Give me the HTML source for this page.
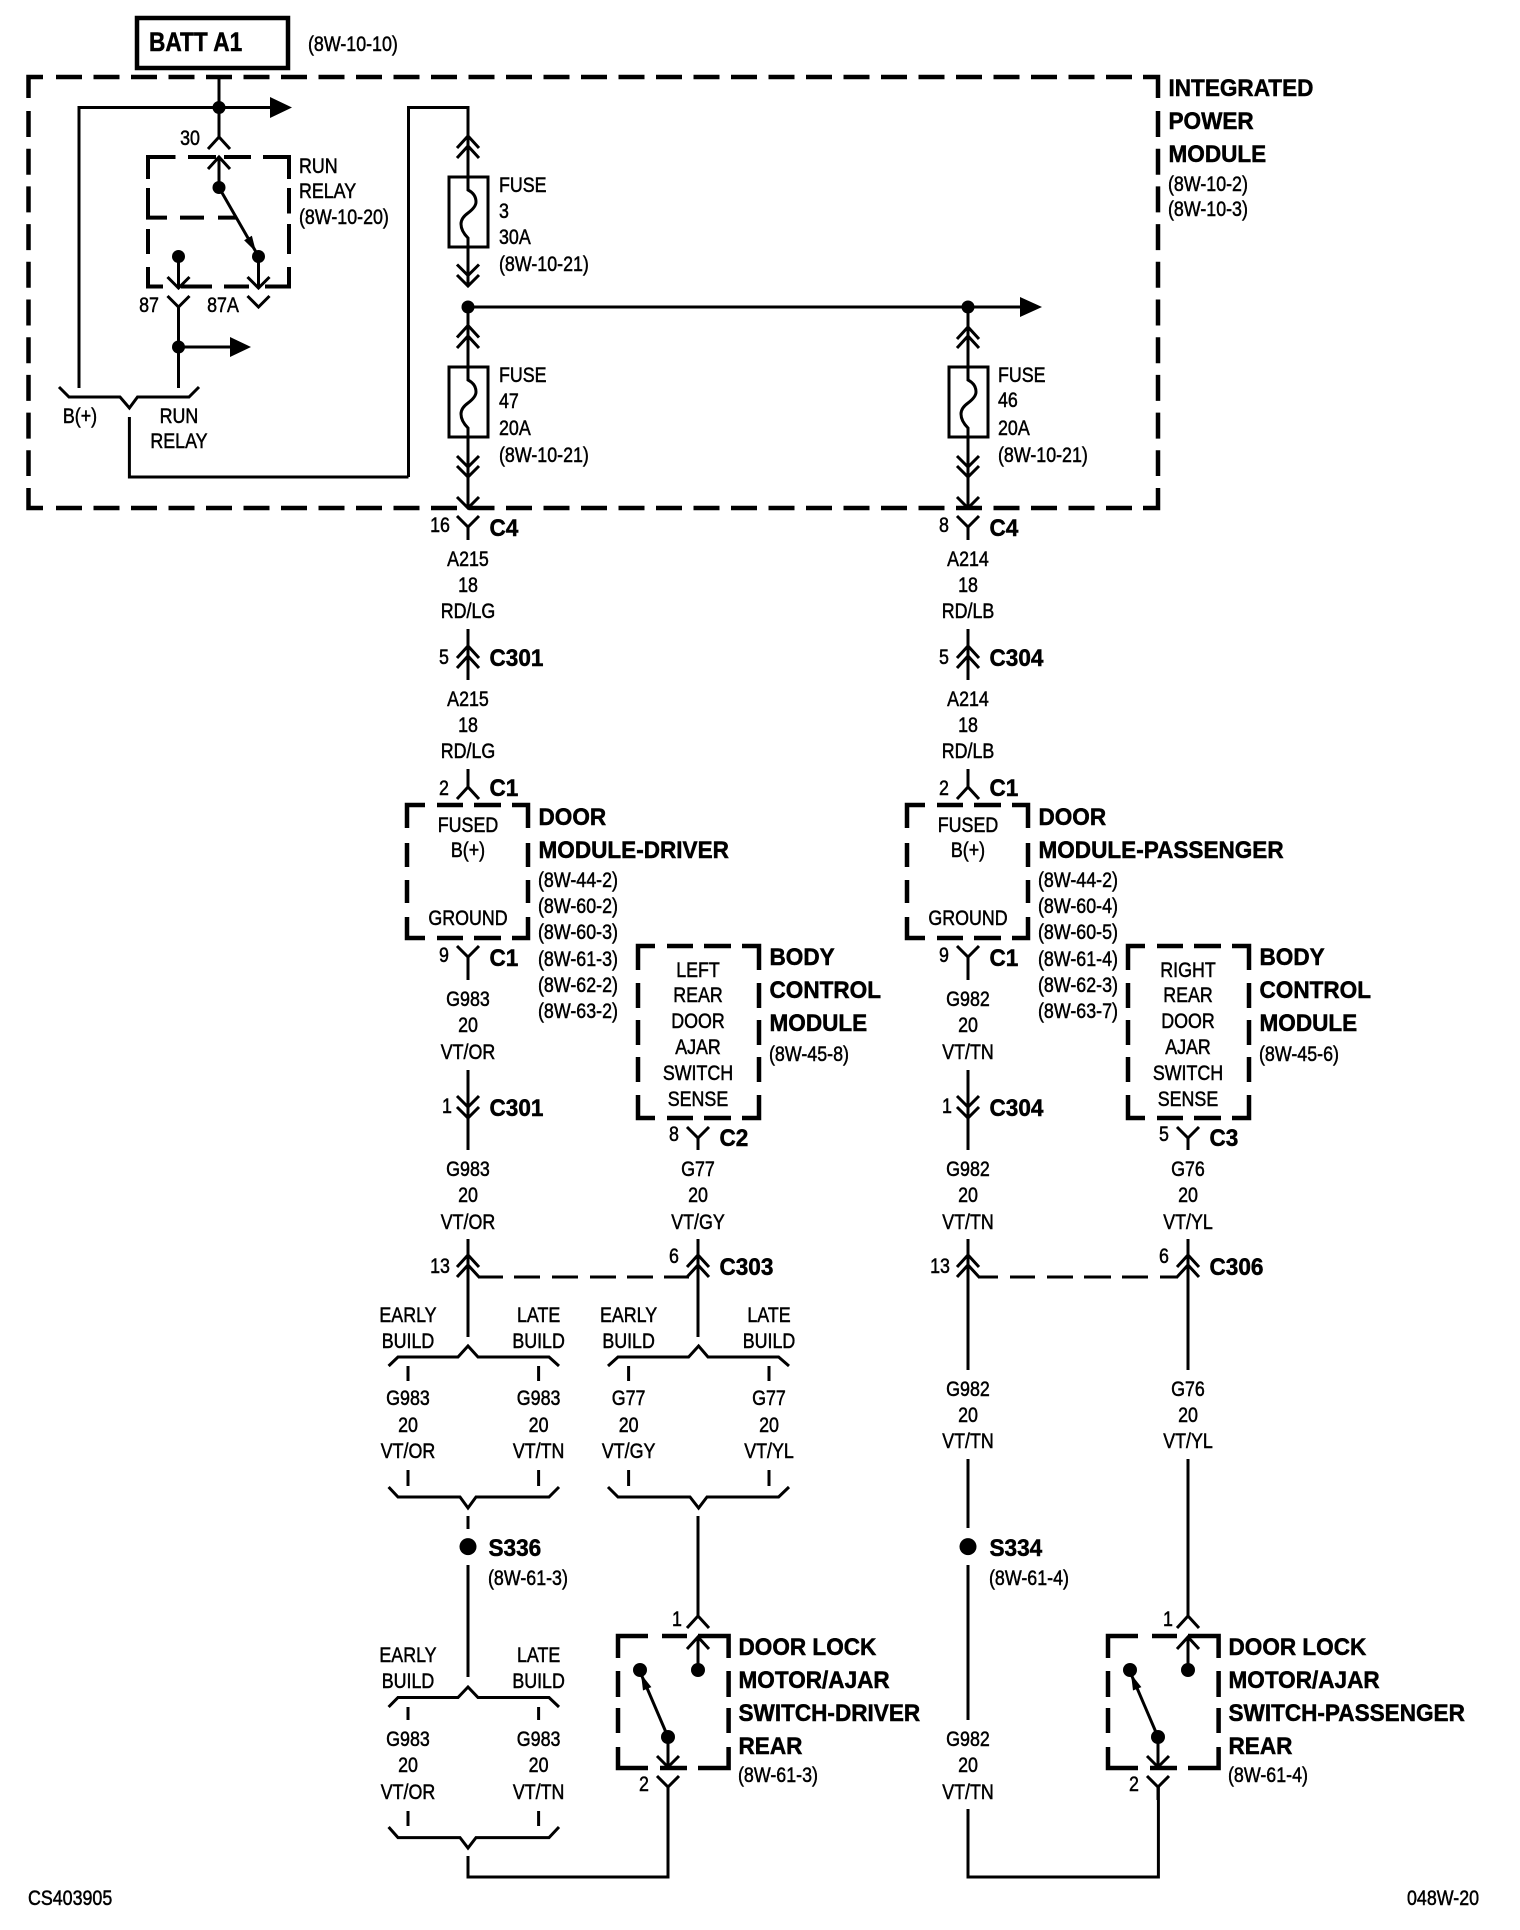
<!DOCTYPE html>
<html><head><meta charset="utf-8"><style>
html,body{margin:0;padding:0;background:#fff}
svg{display:block}
text{font-family:"Liberation Sans",sans-serif;fill:#000;transform-box:fill-box}
.r,.c{font-size:21px;stroke:#000;stroke-width:.5px}
.r{transform-origin:0 50%;transform:translate(-1px,-1px) scaleX(.85)}
.c{text-anchor:middle;transform-origin:50% 50%;transform:translateY(-1px) scaleX(.85)}
.b{font-size:24px;font-weight:bold;stroke:#000;stroke-width:.5px;transform-origin:0 50%;transform:translate(-.5px,-1px) scaleX(.94)}
.t{font-size:27px;font-weight:bold;stroke:#000;stroke-width:.5px;transform-origin:0 50%;transform:translateY(-1px) scaleX(.84)}
.w{fill:none;stroke:#000;stroke-width:3}
.d{fill:none;stroke:#000;stroke-width:4.5}
.n{fill:#000}
</style></head><body>
<svg xmlns="http://www.w3.org/2000/svg" width="1520" height="1930" viewBox="0 0 1520 1930">
<defs>
<path id="u" class="w" d="M-11 12L0 0L11 12"/>
<path id="v" class="w" d="M-11 -11L0 0L11 -11"/>
<g id="fuse"><rect class="w" x="-19" y="0" width="39" height="70"/><path class="w" d="M0 0V13Q8 17 8 25Q8 30 0 36Q-7 41 -7 47Q-7 54 0 61V70"/></g>
<path id="doorbox" class="d" d="M425 805H407V828M437 805H463M474 805H501M512 805H528V828M528 843V867M528 880V903M528 917V938H512M501 938H474M463 938H437M425 938H407V917M407 903V880M407 867V843"/>
<path id="bcmbox" class="d" d="M655 946H638V970M667 946H693M704 946H731M742 946H759V970M759 983V1008M759 1020V1045M759 1057V1082M759 1095V1118H742M731 1118H704M693 1118H667M655 1118H638V1095M638 1082V1057M638 1045V1020M638 1008V983"/>
<g id="sw">
<path class="d" d="M648 1636H618V1658M662 1636H687M698 1636H728.6V1658M728.6 1671V1697M728.6 1708V1733M728.6 1747V1768H698M687 1768H660M648 1768H618V1747M618 1733V1708M618 1697V1671"/>
<path class="w" d="M698 1516V1616M698 1637V1670M668 1737V1767M668 1787V1800M668 1737L641 1674"/>
<path class="w" d="M687 1628L698 1616L709 1628M687 1649L698 1637L709 1649M657 1756L668 1767L679 1756M657 1776L668 1787L679 1776"/>
<circle class="n" cx="698" cy="1670" r="7"/><circle class="n" cx="640" cy="1670" r="7"/><circle class="n" cx="668" cy="1737" r="7"/>
<polygon class="n" points="641,1674 651.4,1687.1 643,1690.5"/>
</g>
</defs>

<!-- BATT -->
<rect x="137" y="18" width="151" height="50" fill="none" stroke="#000" stroke-width="4.5"/>
<text class="t" x="149" y="52">BATT A1</text>
<text class="r" x="309" y="52">(8W-10-10)</text>

<!-- main dashed box -->
<path class="d" d="M28.5 98V77H43M1143 77H1158V98M1158 488V508H1143M43 508H28.5V488"/>
<path class="d" stroke-dasharray="26 11.5" d="M56 77H1132M56 508H1132"/>
<path class="d" stroke-dasharray="26 11.7" d="M28.5 111V476M1158 111V476"/>
<text class="b" x="1169" y="97">INTEGRATED</text>
<text class="b" x="1169" y="130">POWER</text>
<text class="b" x="1169" y="163">MODULE</text>
<text class="r" x="1169" y="192">(8W-10-2)</text>
<text class="r" x="1169" y="217">(8W-10-3)</text>

<!-- top left wiring -->
<path class="w" d="M219 78V137M79 388V107.5H272M408.5 477V107.5H468V136M129.4 417V477H408.5M219 157V187.5"/>
<circle class="n" cx="219" cy="107.5" r="6.5"/>
<polygon class="n" points="270,97 292,107.5 270,118"/>
<use href="#u" x="219" y="137"/><use href="#u" x="219" y="157"/>
<path class="d" style="stroke-width:4" d="M175.5 157H148V179M188 157H216M224 157H251M263 157H289V179M289 188V213.5M289 224V254M289 267V286.5H265M249 286.5H224M212 286.5H181M163 286.5H148V267M148 254V229M148 188V217.6H167M180 217.6H204M218 217.6H237"/>
<circle class="n" cx="219" cy="187.5" r="6.5"/>
<circle class="n" cx="178.5" cy="256.5" r="6.5"/>
<circle class="n" cx="258.5" cy="256.5" r="6.5"/>
<path class="w" d="M219 187.5L256 252M178.5 256.5V288M258.5 256.5V288M178.5 307V388"/>
<polygon class="n" points="256,252 251.9,235.8 244.1,240.2"/>
<use href="#v" x="178.5" y="288"/><use href="#v" x="258.5" y="288"/>
<use href="#v" x="178.5" y="307"/><use href="#v" x="258.5" y="307"/>
<circle class="n" cx="178.5" cy="347" r="6.5"/>
<path class="w" d="M178.5 347H232"/><polygon class="n" points="230,337 251,347 230,357"/>
<path class="w" d="M59 387L69 397H120L129.4 408L137.5 397H189L199 387"/>
<text class="c" x="190" y="146">30</text>
<text class="c" x="149" y="313">87</text>
<text class="c" x="223" y="313">87A</text>
<text class="r" x="300" y="174">RUN</text>
<text class="r" x="300" y="199">RELAY</text>
<text class="r" x="300" y="225">(8W-10-20)</text>
<text class="c" x="80" y="424">B(+)</text>
<text class="c" x="179" y="424">RUN</text>
<text class="c" x="179" y="449">RELAY</text>

<!-- column A fuses -->
<path class="w" d="M468 136V177M468 247V286M468 307V367M468 437V508M468 527V540"/>
<use href="#u" x="468" y="136"/><use href="#u" x="468" y="146"/>
<use href="#fuse" x="468" y="177"/>
<use href="#v" x="468" y="275.5"/><use href="#v" x="468" y="286"/>
<use href="#u" x="468" y="325.5"/><use href="#u" x="468" y="336"/>
<use href="#fuse" x="468" y="367"/>
<use href="#v" x="468" y="467"/><use href="#v" x="468" y="477"/><use href="#v" x="468" y="508"/><use href="#v" x="468" y="527"/>
<text class="r" x="500" y="193">FUSE</text><text class="r" x="500" y="219">3</text><text class="r" x="500" y="245">30A</text><text class="r" x="500" y="272">(8W-10-21)</text>
<text class="r" x="500" y="383">FUSE</text><text class="r" x="500" y="409">47</text><text class="r" x="500" y="436">20A</text><text class="r" x="500" y="463">(8W-10-21)</text>
<circle class="n" cx="468" cy="307" r="6.5"/>
<path class="w" d="M468 307H1022"/>
<polygon class="n" points="1020,297 1042,307 1020,317"/>

<!-- column B fuse -->
<circle class="n" cx="968" cy="307" r="6.5"/>
<path class="w" d="M968 307V367M968 437V508M968 527V540"/>
<use href="#u" x="968" y="327"/><use href="#u" x="968" y="336"/>
<use href="#fuse" x="968" y="367"/>
<use href="#v" x="968" y="467"/><use href="#v" x="968" y="477"/><use href="#v" x="968" y="508"/><use href="#v" x="968" y="527"/>
<text class="r" x="999" y="383">FUSE</text><text class="r" x="999" y="408">46</text><text class="r" x="999" y="436">20A</text><text class="r" x="999" y="463">(8W-10-21)</text>

<!-- C4 / C301 / C304 labels col A -->
<text class="c" x="440" y="533">16</text><text class="b" x="490" y="537">C4</text>
<text class="c" x="468" y="567">A215</text><text class="c" x="468" y="593">18</text><text class="c" x="468" y="619">RD/LG</text>
<path class="w" d="M468 629V680M468 769V787"/>
<use href="#u" x="468" y="646"/><use href="#u" x="468" y="656"/><use href="#u" x="468" y="787"/>
<text class="c" x="444" y="665">5</text><text class="b" x="490" y="667">C301</text>
<text class="c" x="468" y="707">A215</text><text class="c" x="468" y="733">18</text><text class="c" x="468" y="759">RD/LG</text>
<text class="c" x="444" y="796">2</text><text class="b" x="490" y="797">C1</text>

<!-- col B -->
<text class="c" x="944" y="533">8</text><text class="b" x="990" y="537">C4</text>
<text class="c" x="968" y="567">A214</text><text class="c" x="968" y="593">18</text><text class="c" x="968" y="619">RD/LB</text>
<path class="w" d="M968 629V680M968 769V787"/>
<use href="#u" x="968" y="646"/><use href="#u" x="968" y="656"/><use href="#u" x="968" y="787"/>
<text class="c" x="944" y="665">5</text><text class="b" x="990" y="667">C304</text>
<text class="c" x="968" y="707">A214</text><text class="c" x="968" y="733">18</text><text class="c" x="968" y="759">RD/LB</text>
<text class="c" x="944" y="796">2</text><text class="b" x="990" y="797">C1</text>

<!-- door modules -->
<use href="#doorbox"/><use href="#doorbox" x="500"/>
<text class="c" x="468" y="833">FUSED</text><text class="c" x="468" y="858">B(+)</text><text class="c" x="468" y="926">GROUND</text>
<text class="c" x="968" y="833">FUSED</text><text class="c" x="968" y="858">B(+)</text><text class="c" x="968" y="926">GROUND</text>
<text class="b" x="539" y="826">DOOR</text><text class="b" x="539" y="859">MODULE-DRIVER</text>
<text class="r" x="539" y="888">(8W-44-2)</text><text class="r" x="539" y="914">(8W-60-2)</text><text class="r" x="539" y="940">(8W-60-3)</text><text class="r" x="539" y="967">(8W-61-3)</text><text class="r" x="539" y="993">(8W-62-2)</text><text class="r" x="539" y="1019">(8W-63-2)</text>
<text class="b" x="1039" y="826">DOOR</text><text class="b" x="1039" y="859">MODULE-PASSENGER</text>
<text class="r" x="1039" y="888">(8W-44-2)</text><text class="r" x="1039" y="914">(8W-60-4)</text><text class="r" x="1039" y="940">(8W-60-5)</text><text class="r" x="1039" y="967">(8W-61-4)</text><text class="r" x="1039" y="993">(8W-62-3)</text><text class="r" x="1039" y="1019">(8W-63-7)</text>

<!-- below door modules -->
<path class="w" d="M468 957V980M468 1070V1118M468 1118V1150M468 1239V1337M968 957V980M968 1070V1150M968 1239V1370M968 1459V1528M968 1565V1720M968 1809V1877H1158.4V1787"/>
<use href="#v" x="468" y="957"/><use href="#v" x="968" y="957"/>
<text class="c" x="444" y="963">9</text><text class="b" x="490" y="967">C1</text>
<text class="c" x="944" y="963">9</text><text class="b" x="990" y="967">C1</text>
<text class="c" x="468" y="1007">G983</text><text class="c" x="468" y="1033">20</text><text class="c" x="468" y="1060">VT/OR</text>
<text class="c" x="968" y="1007">G982</text><text class="c" x="968" y="1033">20</text><text class="c" x="968" y="1060">VT/TN</text>
<use href="#v" x="468" y="1107"/><use href="#v" x="468" y="1118"/><use href="#v" x="968" y="1107"/><use href="#v" x="968" y="1118"/>
<text class="c" x="447" y="1114">1</text><text class="b" x="490" y="1117">C301</text>
<text class="c" x="947" y="1114">1</text><text class="b" x="990" y="1117">C304</text>
<text class="c" x="468" y="1177">G983</text><text class="c" x="468" y="1203">20</text><text class="c" x="468" y="1230">VT/OR</text>
<text class="c" x="968" y="1177">G982</text><text class="c" x="968" y="1203">20</text><text class="c" x="968" y="1230">VT/TN</text>

<!-- BCM left -->
<use href="#bcmbox"/><use href="#bcmbox" x="490"/>
<text class="c" x="698" y="978">LEFT</text><text class="c" x="698" y="1003">REAR</text><text class="c" x="698" y="1029">DOOR</text><text class="c" x="698" y="1055">AJAR</text><text class="c" x="698" y="1081">SWITCH</text><text class="c" x="698" y="1107">SENSE</text>
<text class="b" x="770" y="966">BODY</text><text class="b" x="770" y="999">CONTROL</text><text class="b" x="770" y="1032">MODULE</text><text class="r" x="770" y="1062">(8W-45-8)</text>
<text class="c" x="1188" y="978">RIGHT</text><text class="c" x="1188" y="1003">REAR</text><text class="c" x="1188" y="1029">DOOR</text><text class="c" x="1188" y="1055">AJAR</text><text class="c" x="1188" y="1081">SWITCH</text><text class="c" x="1188" y="1107">SENSE</text>
<text class="b" x="1260" y="966">BODY</text><text class="b" x="1260" y="999">CONTROL</text><text class="b" x="1260" y="1032">MODULE</text><text class="r" x="1260" y="1062">(8W-45-6)</text>
<path class="w" d="M698 1138V1150M698 1239V1337M1188 1138V1150M1188 1239V1370M1188 1459V1616"/>
<use href="#v" x="698" y="1138"/><use href="#v" x="1188" y="1138"/>
<text class="c" x="674" y="1142">8</text><text class="b" x="720" y="1147">C2</text>
<text class="c" x="1164" y="1142">5</text><text class="b" x="1210" y="1147">C3</text>
<text class="c" x="698" y="1177">G77</text><text class="c" x="698" y="1203">20</text><text class="c" x="698" y="1230">VT/GY</text>
<text class="c" x="1188" y="1177">G76</text><text class="c" x="1188" y="1203">20</text><text class="c" x="1188" y="1230">VT/YL</text>

<!-- C303/C306 -->
<use href="#u" x="468" y="1255"/><use href="#u" x="468" y="1265"/><use href="#u" x="698" y="1255"/><use href="#u" x="698" y="1265"/>
<use href="#u" x="968" y="1255"/><use href="#u" x="968" y="1265"/><use href="#u" x="1188" y="1255"/><use href="#u" x="1188" y="1265"/>
<path class="w" d="M478 1277H503M514 1277H540M552 1277H578M590 1277H616M627 1277H653M664 1277H689M978 1277H998M1010 1277H1035M1047 1277H1073M1084 1277H1111M1122 1277H1148M1160 1277H1178"/>
<text class="c" x="440" y="1274">13</text><text class="c" x="674" y="1264">6</text><text class="b" x="720" y="1276">C303</text>
<text class="c" x="940" y="1274">13</text><text class="c" x="1164" y="1264">6</text><text class="b" x="1210" y="1276">C306</text>

<!-- right G982/G76 lower -->
<text class="c" x="968" y="1397">G982</text><text class="c" x="968" y="1423">20</text><text class="c" x="968" y="1449">VT/TN</text>
<text class="c" x="1188" y="1397">G76</text><text class="c" x="1188" y="1423">20</text><text class="c" x="1188" y="1449">VT/YL</text>
<circle class="n" cx="968" cy="1546.6" r="8.5"/>
<text class="b" x="990" y="1557">S334</text><text class="r" x="990" y="1586">(8W-61-4)</text>
<text class="c" x="968" y="1747">G982</text><text class="c" x="968" y="1773">20</text><text class="c" x="968" y="1800">VT/TN</text>

<!-- early/late A upper -->
<text class="c" x="408" y="1323">EARLY</text><text class="c" x="408" y="1349">BUILD</text>
<text class="c" x="538.6" y="1323">LATE</text><text class="c" x="538.6" y="1349">BUILD</text>
<path class="w" d="M388.6 1366L398 1357H458L468 1346L478 1357H549L559 1366M408 1366V1381M538.6 1366V1381M408 1470V1486M538.6 1470V1486M388.6 1487L398 1497H460L468 1508L476 1497H549L559 1487M468 1516V1529M468 1565V1677"/>
<text class="c" x="408" y="1406">G983</text><text class="c" x="408" y="1433">20</text><text class="c" x="408" y="1459">VT/OR</text>
<text class="c" x="538.6" y="1406">G983</text><text class="c" x="538.6" y="1433">20</text><text class="c" x="538.6" y="1459">VT/TN</text>
<circle class="n" cx="468" cy="1546.6" r="8.5"/>
<text class="b" x="489" y="1557">S336</text><text class="r" x="489" y="1586">(8W-61-3)</text>

<!-- early/late A lower -->
<text class="c" x="408" y="1663">EARLY</text><text class="c" x="408" y="1689">BUILD</text>
<text class="c" x="538.6" y="1663">LATE</text><text class="c" x="538.6" y="1689">BUILD</text>
<path class="w" d="M388.6 1707L398 1697.5H458L468 1687L478 1697.5H549L559 1707M408 1707V1720M538.6 1707V1720M408 1811V1826M538.6 1811V1826M388.6 1827L398 1837.6H460L468 1848L476 1837.6H549L559 1827M468 1856V1877H668V1787"/>
<text class="c" x="408" y="1747">G983</text><text class="c" x="408" y="1773">20</text><text class="c" x="408" y="1800">VT/OR</text>
<text class="c" x="538.6" y="1747">G983</text><text class="c" x="538.6" y="1773">20</text><text class="c" x="538.6" y="1800">VT/TN</text>

<!-- early/late G77 -->
<text class="c" x="628.6" y="1323">EARLY</text><text class="c" x="628.6" y="1349">BUILD</text>
<text class="c" x="769" y="1323">LATE</text><text class="c" x="769" y="1349">BUILD</text>
<path class="w" d="M608 1366L618 1357H688.6L698.6 1346L708 1357H778.6L789 1366M628.6 1366V1381M769 1366V1381M628.6 1470V1486M769 1470V1486M608 1487L618 1497H690L698.6 1508L707 1497H778.6L789 1487"/>
<text class="c" x="628.6" y="1406">G77</text><text class="c" x="628.6" y="1433">20</text><text class="c" x="628.6" y="1459">VT/GY</text>
<text class="c" x="769" y="1406">G77</text><text class="c" x="769" y="1433">20</text><text class="c" x="769" y="1459">VT/YL</text>

<!-- switches -->
<use href="#sw"/><use href="#sw" x="490"/>
<text class="c" x="677" y="1627">1</text><text class="c" x="644" y="1792">2</text>
<text class="c" x="1168" y="1627">1</text><text class="c" x="1134" y="1792">2</text>
<text class="b" x="739" y="1656">DOOR LOCK</text><text class="b" x="739" y="1689">MOTOR/AJAR</text><text class="b" x="739" y="1722">SWITCH-DRIVER</text><text class="b" x="739" y="1755">REAR</text><text class="r" x="739" y="1783">(8W-61-3)</text>
<text class="b" x="1229" y="1656">DOOR LOCK</text><text class="b" x="1229" y="1689">MOTOR/AJAR</text><text class="b" x="1229" y="1722">SWITCH-PASSENGER</text><text class="b" x="1229" y="1755">REAR</text><text class="r" x="1229" y="1783">(8W-61-4)</text>

<text class="r" x="29" y="1906">CS403905</text>
<text class="r" x="1408" y="1906">048W-20</text>
</svg>
</body></html>
